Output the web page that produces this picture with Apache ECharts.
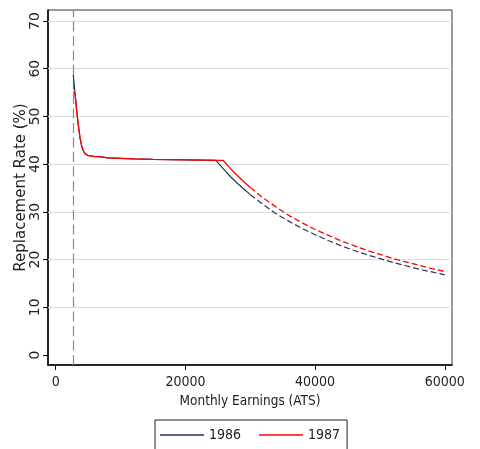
<!DOCTYPE html>
<html>
<head>
<meta charset="utf-8">
<script src="https://cdn.jsdelivr.net/npm/echarts@6/dist/echarts.min.js"></script>
<style>html,body{margin:0;padding:0;background:#fff;}#c{width:480px;height:449px;}</style>
</head>
<body>
<div id="c"></div>
<script>
// Data
var earnings1986 = [2700, 3000, 3250, 3500, 3750, 4000, 4250, 4500, 5000, 6000, 7000, 8000, 10000, 12000, 15000, 20000, 24700, 25000, 26000, 27000, 28000, 29000, 30000];
var rate1986     = [58.7, 54.5, 51.0, 48.0, 45.5, 43.8, 42.8, 42.2, 41.8, 41.6, 41.5, 41.3, 41.2, 41.1, 41.0, 40.9, 40.8, 40.3, 38.8, 37.3, 36.0, 34.8, 33.6];
var earnings1986b = [30000, 32000, 34000, 36000, 38000, 40000, 42000, 44000, 46000, 48000, 50000, 52000, 54000, 56000, 58000, 60000];
var rate1986b     = [33.6, 31.5, 29.6, 28.0, 26.5, 25.2, 24.0, 22.9, 21.9, 21.0, 20.2, 19.4, 18.7, 18.0, 17.4, 16.8];
var earnings1987 = [2750, 3000, 3250, 3500, 3750, 4000, 4250, 4500, 5000, 6000, 7000, 8000, 10000, 12000, 15000, 20000, 25800, 26000, 27000, 28000, 29000, 30000];
var rate1987     = [55.2, 54.5, 51.0, 48.0, 45.5, 43.8, 42.8, 42.2, 41.8, 41.6, 41.5, 41.3, 41.2, 41.1, 41.0, 40.9, 40.8, 40.5, 39.0, 37.6, 36.3, 35.1];
var earnings1987b = [30000, 32000, 34000, 36000, 38000, 40000, 42000, 44000, 46000, 48000, 50000, 52000, 54000, 56000, 58000, 60000];
var rate1987b     = [35.1, 32.9, 31.0, 29.2, 27.7, 26.3, 25.1, 23.9, 22.9, 21.9, 21.1, 20.2, 19.5, 18.8, 18.1, 17.5];
var xTicks = [0, 20000, 40000, 60000];
var yTicks = [0, 10, 20, 30, 40, 50, 60, 70];
var gridValues = [10, 20, 30, 40, 50, 60, 70];
var thresholdEarnings = 2700;
var seriesNames = ['1986', '1987'];

function pairs(xs, ys) { return xs.map(function (x, i) { return [x, ys[i]]; }); }

var NAVY = '#243559', RED = '#ff0000';
var condensed = '"DejaVu Sans Condensed", "DejaVu Sans", sans-serif';

var chart = echarts.init(document.getElementById('c'), null, {renderer: 'canvas'});
chart.setOption({
  animation: false,
  backgroundColor: '#fff',
  grid: {left: 48, right: 28, top: 10, bottom: 84, show: true, borderColor: '#333', borderWidth: 1, outerBoundsMode: 'none', containLabel: false},
  legend: {
    data: seriesNames,
    left: 155, top: 420,
    padding: [8, 7, 10, 5],
    icon: 'rect',
    itemWidth: 44, itemHeight: 1.5, itemGap: 18,
    borderColor: '#222', borderWidth: 1,
    textStyle: {fontFamily: condensed, fontSize: 14, color: '#222'}
  },
  xAxis: {
    type: 'value', min: -1190, max: 61110,
    name: 'Monthly Earnings (ATS)', nameLocation: 'middle', nameGap: 29, nameMoveOverlap: false,
    nameTextStyle: {fontFamily: condensed, fontSize: 13.5, color: '#222'},
    axisLine: {show: true, onZero: false, lineStyle: {color: '#000', width: 1.5}},
    axisTick: {show: true, length: 5, customValues: xTicks, lineStyle: {color: '#000'}},
    axisLabel: {customValues: xTicks, formatter: function (v) { return String(v); }, fontFamily: condensed, fontSize: 14, color: '#222', margin: 10},
    splitLine: {show: false}
  },
  yAxis: {
    type: 'value', min: -2.1, max: 72.3,
    name: 'Replacement Rate (%)', nameLocation: 'middle', nameGap: 19, nameRotate: 90, nameMoveOverlap: false,
    nameTextStyle: {fontFamily: '"DejaVu Sans", sans-serif', fontSize: 15, color: '#222'},
    axisLine: {show: true, onZero: false, lineStyle: {color: '#000', width: 1.5}},
    axisTick: {show: true, length: 5, customValues: yTicks, lineStyle: {color: '#000'}},
    axisLabel: {customValues: yTicks, formatter: function (v) { return String(v); }, rotate: 90, fontFamily: '"DejaVu Sans", sans-serif', fontSize: 14, color: '#222', margin: 6},
    splitLine: {show: false}
  },
  series: [
    {
      name: seriesNames[0], type: 'line', symbol: 'none', z: 3,
      data: pairs(earnings1986, rate1986),
      lineStyle: {color: NAVY, width: 1.2}, itemStyle: {color: NAVY},
      markLine: {
        silent: true, symbol: 'none', label: {show: false}, z: 1,
        data: gridValues.map(function (v) { return {yAxis: v, lineStyle: {color: '#dcdcdc', width: 1, type: 'solid'}}; })
          .concat([{xAxis: thresholdEarnings, lineStyle: {color: '#8a8a8a', width: 1.2, type: [10, 4.5]}}])
      }
    },
    {
      name: '1986b', type: 'line', symbol: 'none', z: 3,
      data: pairs(earnings1986b, rate1986b),
      lineStyle: {color: NAVY, width: 1.2, type: [6, 3]}, itemStyle: {color: NAVY}
    },
    {
      name: seriesNames[1], type: 'line', symbol: 'none', z: 4,
      data: pairs(earnings1987, rate1987),
      lineStyle: {color: RED, width: 1.3}, itemStyle: {color: RED}
    },
    {
      name: '1987b', type: 'line', symbol: 'none', z: 4,
      data: pairs(earnings1987b, rate1987b),
      lineStyle: {color: RED, width: 1.3, type: [6, 3]}, itemStyle: {color: RED}
    }
  ]
});
</script>
</body>
</html>
